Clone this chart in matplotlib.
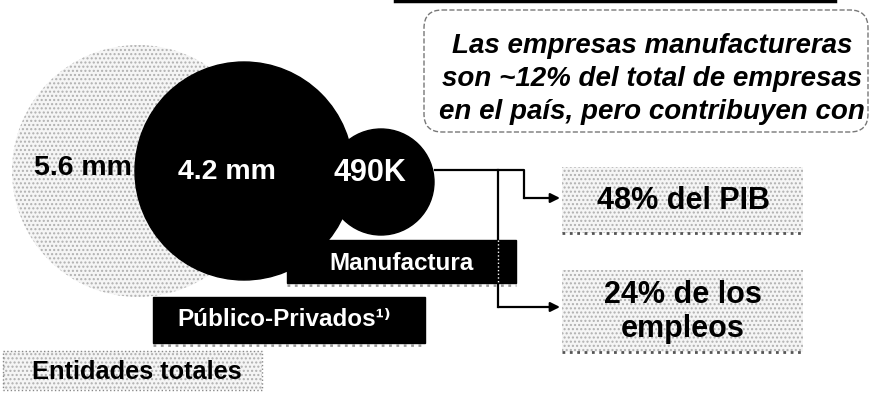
import matplotlib.pyplot as plt
from matplotlib.patches import Circle, Rectangle, FancyBboxPatch

plt.rcParams['font.family'] = ['Liberation Sans', 'DejaVu Sans']

# datos
circle_labels = ["5.6 mm", "4.2 mm", "490K"]
group_labels = ["Entidades totales", "Público-Privados¹⁾", "Manufactura"]
callout_lines = ["Las empresas manufactureras",
                 "son ~12% del total de empresas",
                 "en el país, pero contribuyen con"]
share_labels = ["48% del PIB", "24% de los\nempleos"]

fig = plt.figure(figsize=(8.72, 3.93), dpi=100)
ax = fig.add_axes([0, 0, 1, 1])
ax.set_xlim(0, 872)
ax.set_ylim(393, 0)
ax.axis('off')

dots = dict(facecolor='#f5f5f5', edgecolor='#b0b0b0', hatch='....', linewidth=0)

# circulos
ax.add_patch(Circle((138, 171), 126, zorder=1, **dots))
ax.add_patch(Circle((244, 171), 109, color='black', zorder=2))
ax.add_patch(Circle((381, 182), 53, color='black', zorder=3))
ax.text(83, 168, circle_labels[0], ha='center', va='center', fontsize=20.5,
        fontweight='bold', color='black', zorder=5)
ax.text(227, 172, circle_labels[1], ha='center', va='center', fontsize=20.5,
        fontweight='bold', color='white', zorder=5)
ax.text(370, 173, circle_labels[2], ha='center', va='center', fontsize=22,
        fontweight='bold', color='white', zorder=5)

# conectores
lw = 1.6
ax.plot([435, 524, 524], [170, 170, 198], color='black', lw=lw, zorder=2)
ax.plot([498, 498], [170, 307], color='black', lw=lw, zorder=2)
for y0, x0 in [(198, 524), (307, 498)]:
    ax.annotate('', xy=(560, y0), xytext=(x0, y0),
                arrowprops=dict(arrowstyle='-|>', color='black', lw=lw,
                                mutation_scale=14, shrinkA=0, shrinkB=0), zorder=2)

# etiquetas negras
ax.add_patch(Rectangle((287, 240), 229, 43, color='black', zorder=4))
ax.plot([498, 498], [240, 283], color='white', lw=1, ls=':', zorder=4)
ax.text(401, 263, group_labels[2], ha='center', va='center', fontsize=17.5,
        fontweight='bold', color='white', zorder=5)
ax.plot([287, 516], [285, 285], color='#999999', lw=2, ls=':', zorder=4)
ax.add_patch(Rectangle((153, 297), 272, 46, color='black', zorder=4))
ax.text(284, 320, group_labels[1], ha='center', va='center', fontsize=17.5,
        fontweight='bold', color='white', zorder=5)
ax.plot([153, 425], [345, 345], color='#999999', lw=2, ls=':', zorder=4)

# entidades totales
ax.add_patch(Rectangle((3, 351), 259, 39, zorder=1, **dots))
ax.add_patch(Rectangle((3, 351), 259, 39, fill=False, edgecolor='#888888',
                       lw=1, ls=':', zorder=1))
ax.text(137, 372, group_labels[0], ha='center', va='center', fontsize=18.3,
        fontweight='bold', color='black', zorder=5)

# cajas de participacion
for (y, h), lab in zip([(167, 66), (270, 82)], share_labels):
    ax.add_patch(Rectangle((562, y), 241, h, zorder=1, **dots))
    ax.plot([562, 803], [y + h, y + h], color='#555555', lw=2, ls=':', zorder=2)
    ax.text(683, y + h / 2 + 1, lab, ha='center', va='center', fontsize=22,
            fontweight='bold', color='black', linespacing=1.15, zorder=5)

# recuadro de comentario
ax.plot([395, 835], [1, 1], color='black', lw=2.5, zorder=2)
ax.add_patch(FancyBboxPatch((424, 10), 444, 122,
                            boxstyle='round,pad=0,rounding_size=18',
                            fill=False, edgecolor='#777777', lw=1, ls='--', zorder=2))
for i, line in enumerate(callout_lines):
    ax.text(652, 46 + 33 * i, line, ha='center', va='center', fontsize=20,
            fontweight='bold', fontstyle='italic', color='black', zorder=5)

fig.savefig('out.png', dpi=100)
